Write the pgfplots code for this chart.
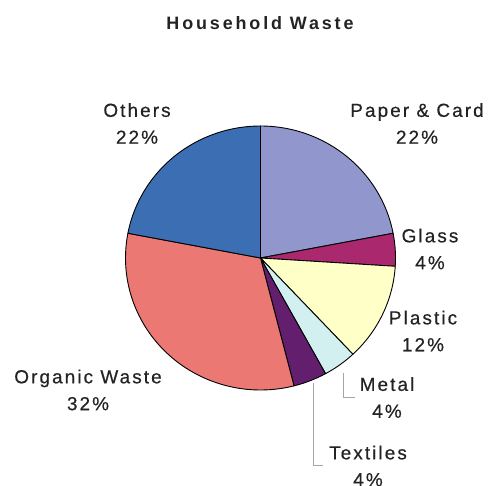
\documentclass[border=0pt]{standalone}
\usepackage{fontspec}
\setmainfont{Liberation Sans}
\newfontfamily\lab[LetterSpace=11, FakeBold=0.5]{Liberation Sans}
\newfontfamily\ttl[LetterSpace=16]{Liberation Sans}
\usepackage{pgfplots}
\usepackage{pgfplotstable}
\pgfplotsset{compat=1.18}
\definecolor{cpaper}{RGB}{145,150,205}
\definecolor{cglass}{RGB}{170,40,110}
\definecolor{cplastic}{RGB}{255,255,200}
\definecolor{cmetal}{RGB}{210,240,240}
\definecolor{ctextiles}{RGB}{100,30,110}
\definecolor{corganic}{RGB}{235,120,115}
\definecolor{cothers}{RGB}{60,110,180}
\definecolor{txt}{RGB}{35,35,35}
\pgfplotstableread{
name value
paper 22
glass 4
plastic 12
metal 4
textiles 4
organic 32
others 22
}\wastetable
\begin{document}
\begin{tikzpicture}
\begin{axis}[
  width=489bp, height=486bp, scale only axis,
  xmin=0, xmax=489, ymin=0, ymax=486,
  hide axis, clip=false,
]
\pgfmathsetmacro\start{90}
\pgfplotsforeachungrouped \i in {0,...,6}{%
  \pgfplotstablegetelem{\i}{value}\of\wastetable \let\v\pgfplotsretval
  \pgfplotstablegetelem{\i}{name}\of\wastetable \let\n\pgfplotsretval
  \pgfmathsetmacro\stop{\start-3.6*\v}%
  \edef\cmd{\noexpand\addplot[draw=black, line width=0.9pt, line join=round, fill=c\n, domain=\stop:\start, samples=80, variable=\noexpand\t] ({260.5+135*cos(\noexpand\t)}, {228+132*sin(\noexpand\t)}) -- (axis cs:260.5,228) -- cycle;}%
  \cmd
  \global\let\start\stop
}
\addplot[color={rgb,255:red,165;green,165;blue,165}, line width=0.6pt] coordinates {(343,113) (343,89) (355,89)};
\addplot[color={rgb,255:red,165;green,165;blue,165}, line width=0.6pt] coordinates {(313,103) (313,21) (323,21)};
\begin{scope}[every node/.style={align=center, text=txt, font=\lab\fontsize{19}{27}\selectfont}]
\node[font=\ttl\bfseries\fontsize{18}{20}\selectfont] at (axis cs:260,463) {Household Waste};
\node at (axis cs:137,362.5) {Others\\22\%};
\node at (axis cs:417,362.5) {Paper \& Card\\22\%};
\node at (axis cs:430,237) {Glass\\4\%};
\node at (axis cs:423,155) {Plastic\\12\%};
\node at (axis cs:88,96) {Organic Waste\\32\%};
\node at (axis cs:387,88.5) {Metal\\4\%};
\node at (axis cs:368,20) {Textiles\\4\%};
\end{scope}
\end{axis}
\pgfresetboundingbox
\path[use as bounding box] (0,0) rectangle (489bp,486bp);
\end{tikzpicture}
\end{document}
